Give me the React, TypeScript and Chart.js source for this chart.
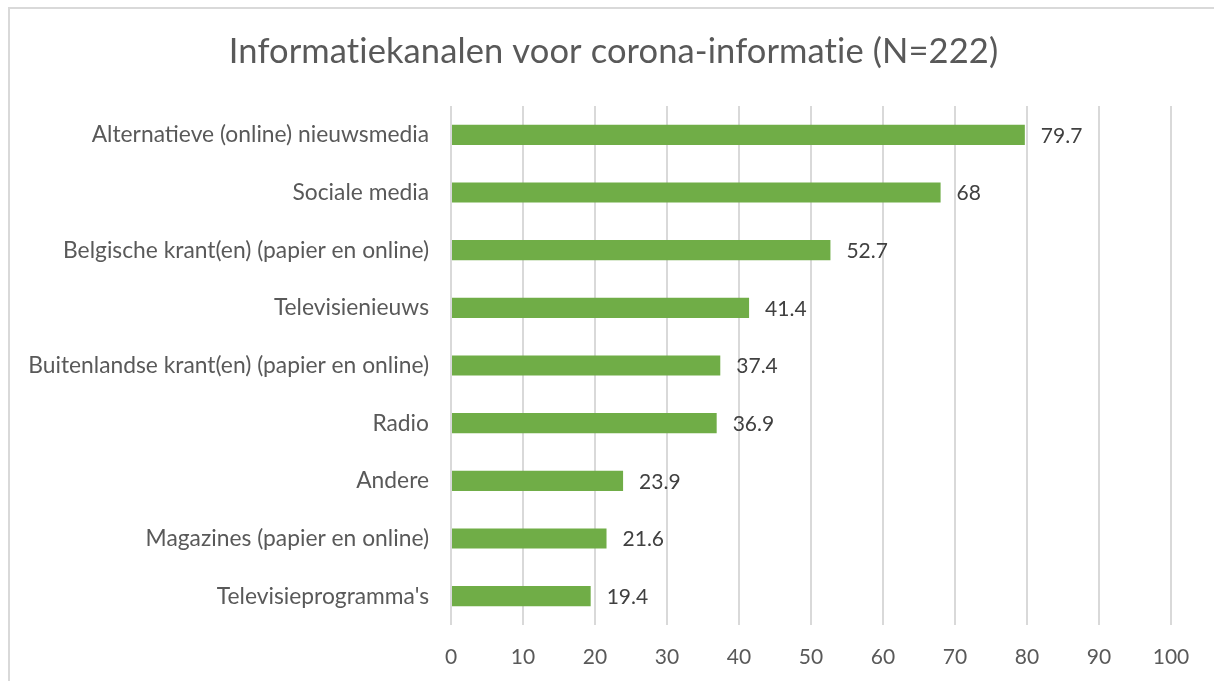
import React, { useEffect, useRef } from "react";
import { Chart, registerables } from "chart.js";

Chart.register(...registerables);

const categories = [
  "Alternatieve (online) nieuwsmedia",
  "Sociale media",
  "Belgische krant(en) (papier en online)",
  "Televisienieuws",
  "Buitenlandse krant(en) (papier en online)",
  "Radio",
  "Andere",
  "Magazines (papier en online)",
  "Televisieprogramma's",
];
const values = [79.7, 68, 52.7, 41.4, 37.4, 36.9, 23.9, 21.6, 19.4];
const valueLabels = ["79.7", "68", "52.7", "41.4", "37.4", "36.9", "23.9", "21.6", "19.4"];
const titleText = "Informatiekanalen voor corona-informatie (N=222)";

const FONT = "Lato, 'Open Sans', sans-serif";

export default function App() {
  const ref = useRef<HTMLCanvasElement | null>(null);
  useEffect(() => {
    if (!ref.current) return;
    const framePlugin = {
      id: "frame",
      beforeDraw(chart: any) {
        const ctx = chart.ctx;
        ctx.save();
        ctx.fillStyle = "#ffffff";
        ctx.fillRect(0, 0, chart.width, chart.height);
        ctx.strokeStyle = "#D9D9D9";
        ctx.lineWidth = 2;
        ctx.beginPath();
        ctx.moveTo(9, chart.height);
        ctx.lineTo(9, 8);
        ctx.lineTo(chart.width, 8);
        ctx.stroke();
        // title, centred in the framed box
        ctx.fillStyle = "#595959";
        ctx.font = `34.5px ${FONT}`;
        try {
          (ctx as any).letterSpacing = "0.1px";
        } catch (e) {}
        ctx.textAlign = "center";
        ctx.textBaseline = "middle";
        ctx.fillText(titleText, (chart.width + 13) / 2, 52);
        ctx.restore();
      },
    };
    const labelPlugin = {
      id: "valueLabels",
      afterDatasetsDraw(chart: any) {
        const ctx = chart.ctx;
        const meta = chart.getDatasetMeta(0);
        ctx.save();
        ctx.fillStyle = "#404040";
        ctx.font = `21px ${FONT}`;
        ctx.textAlign = "left";
        ctx.textBaseline = "middle";
        meta.data.forEach((bar: any, i: number) => {
          ctx.fillText(valueLabels[i], bar.x + 16, bar.y + 1);
        });
        ctx.restore();
      },
    };
    const chart = new Chart(ref.current, {
      type: "bar",
      data: {
        labels: categories,
        datasets: [
          {
            data: values,
            backgroundColor: "#70AD47",
            borderWidth: 0,
            categoryPercentage: 1,
            barPercentage: 0.35,
          },
        ],
      },
      options: {
        indexAxis: "y",
        animation: false,
        responsive: false,
        maintainAspectRatio: false,
        layout: { padding: { left: 10, right: 43, top: 106, bottom: 12 } },
        plugins: {
          legend: { display: false },
          tooltip: { enabled: false },
          title: { display: false },
        },
        scales: {
          x: {
            min: 0,
            max: 100,
            afterFit(scale: any) {
              scale.height = 44;
            },
            ticks: {
              stepSize: 10,
              color: "#595959",
              font: { family: FONT, size: 21 },
              padding: 20,
            },
            grid: { color: "#D9D9D9", lineWidth: 2, drawTicks: false },
            border: { display: false },
          },
          y: {
            afterFit(scale: any) {
              scale.width = 441;
            },
            ticks: {
              color: "#595959",
              font: { family: FONT, size: 22.8 },
              padding: 22,
            },
            grid: { display: false, drawTicks: false },
            border: { display: false },
          },
        },
      },
      plugins: [framePlugin, labelPlugin],
    });
    return () => chart.destroy();
  }, []);
  return (
    <div style={{ position: "absolute", left: 0, top: 0, width: 1214, height: 681 }}>
      <canvas ref={ref} width={1214} height={681} style={{ display: "block" }} />
    </div>
  );
}
